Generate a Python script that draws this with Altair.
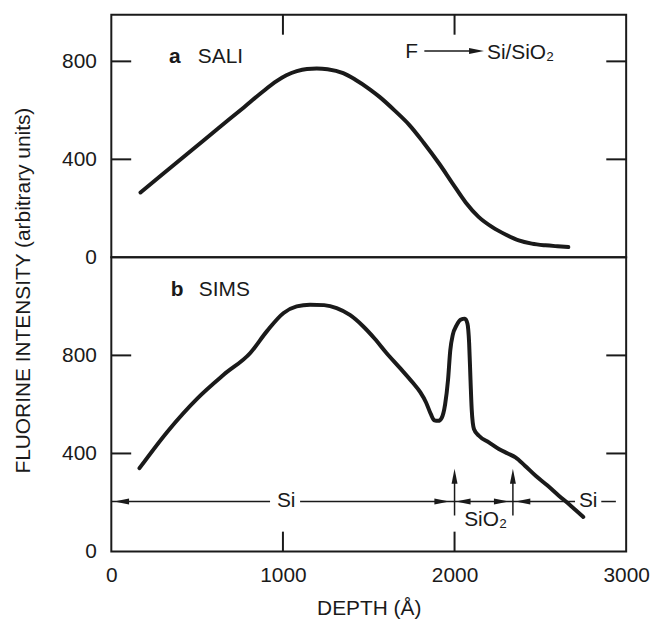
import altair as alt
import pandas as pd

# ---------------- data ----------------
sali_depth = [170, 300, 463, 620, 772, 880, 965, 1020, 1081, 1140, 1197, 1260, 1351, 1420,
              1506, 1563, 1650, 1737, 1820, 1911, 1990, 2065, 2140, 2220, 2300, 2374,
              2450, 2529, 2600, 2663]
sali_int = [265, 340, 434, 525, 612, 675, 720, 743, 760, 769, 771, 768, 752, 726,
            686, 655, 600, 540, 468, 382, 300, 224, 165, 123, 92, 69,
            56, 49, 45, 42]

sims_depth = [164, 328, 502, 656, 811, 907, 1004, 1080, 1158, 1240, 1313, 1390, 1467, 1535,
              1602, 1680, 1756, 1800, 1834, 1862, 1882, 1905, 1925, 1945, 1962, 1975,
              1990, 2010, 2035, 2060, 2075, 2085, 2093, 2100, 2113, 2142, 2200, 2258,
              2310, 2355, 2410, 2471, 2540, 2606, 2680, 2750]
sims_int = [340, 490, 625, 722, 811, 899, 973, 1000, 1007, 1005, 993, 965, 919, 868,
            811, 750, 689, 650, 608, 560, 535, 533, 545, 600, 700, 820,
            885, 920, 945, 950, 930, 850, 700, 580, 500, 472, 445, 418,
            400, 384, 350, 310, 270, 229, 185, 141]

x_ticks = [0, 1000, 2000, 3000]
y_ticks = [0, 400, 800]
inner_x_ticks = [1000, 2000]
inner_y_ticks = [400, 800]

# layer boundary annotations (bottom panel)
layer_line_level = 204
layer_line_from = [0, 1100, 2855]
layer_line_to = [925, 2702, 2940]
interface_depths = [2000, 2340]
interface_arrow_from = 147
interface_arrow_to = 300
interface_head_at = 307
head_right_at = [1926, 2273]
head_left_at = [60, 2050, 2398]
layer_text = ["Si", "Si"]
layer_text_x = [1019, 2779]

# ---------------- style ----------------
W = 518
H_TOP = 244
H_BOT = 296
INK = "#1a1a1a"
FONT = "Liberation Sans, Arial, Helvetica, sans-serif"
FS = 21
TICK = 20

RIGHT = "M1,0L-1,-0.4L-1,0.4Z"
LEFT = "M-1,0L1,-0.4L1,0.4Z"
UP = "M0,-1L-0.4,1L0.4,1Z"

xscale = alt.Scale(domain=[0, 3000], nice=False, zero=False)
ytop = alt.Scale(domain=[0, 990], nice=False)
ybot = alt.Scale(domain=[0, 1200], nice=False)

AX_X_TOP = None
AX_Y_TOP = alt.Axis(values=y_ticks, ticks=False, tickSize=0, domain=False, grid=False,
                    labelPadding=15, labelFlush=False,
                    title="FLUORINE INTENSITY (arbitrary units)",
                    titleX=-88, titleY=277, titleAngle=270, titleBaseline="middle",
                    titleAlign="center")
AX_X_BOT = alt.Axis(values=x_ticks, ticks=False, tickSize=0, domain=False, grid=False,
                    labelPadding=13, labelFlush=False, format="d",
                    title="DEPTH (Å)", titleY=46, titleBaseline="top")
AX_Y_BOT = alt.Axis(values=y_ticks, ticks=False, tickSize=0, domain=False, grid=False,
                    labelPadding=15, labelFlush=False, title=None)


class Panel:
    def __init__(self, yscale, ax_x, ax_y, h):
        self.yscale, self.ax_x, self.ax_y, self.h = yscale, ax_x, ax_y, h

    def X(self, field):
        return alt.X(field, scale=xscale, axis=self.ax_x)

    def Y(self, field):
        return alt.Y(field, scale=self.yscale, axis=self.ax_y)

    def curve(self, df):
        return alt.Chart(df).mark_line(
            color=INK, strokeWidth=4, interpolate="monotone", strokeCap="round").encode(
            x=self.X("x:Q"), y=self.Y("y:Q"))

    def frame_ticks(self, top_side):
        yt = pd.DataFrame({"y": inner_y_ticks})
        xt = pd.DataFrame({"x": inner_x_ticks})
        left = alt.Chart(yt).mark_rule(color=INK, strokeWidth=2).encode(
            y=self.Y("y:Q"), x=alt.value(0), x2=alt.value(TICK))
        right = alt.Chart(yt).mark_rule(color=INK, strokeWidth=2).encode(
            y=self.Y("y:Q"), x=alt.value(W - TICK), x2=alt.value(W))
        if top_side:
            horiz = alt.Chart(xt).mark_rule(color=INK, strokeWidth=2).encode(
                x=self.X("x:Q"), y=alt.value(0), y2=alt.value(TICK))
        else:
            horiz = alt.Chart(xt).mark_rule(color=INK, strokeWidth=2).encode(
                x=self.X("x:Q"), y=alt.value(self.h - TICK), y2=alt.value(self.h))
        return [left, right, horiz]

    def text(self, xs, ys, ts, **kw):
        df = pd.DataFrame({"x": xs, "y": ys, "t": ts})
        return alt.Chart(df).mark_text(font=FONT, fontSize=FS, color=INK, **kw).encode(
            x=self.X("x:Q"), y=self.Y("y:Q"), text="t:N")

    def hrule(self, xs, x2s, ys, width=1.5):
        df = pd.DataFrame({"x": xs, "x2": x2s, "y": ys})
        return alt.Chart(df).mark_rule(color=INK, strokeWidth=width).encode(
            x=self.X("x:Q"), x2="x2:Q", y=self.Y("y:Q"))

    def vrule(self, xs, ys, y2s, width=1.5):
        df = pd.DataFrame({"x": xs, "y": ys, "y2": y2s})
        return alt.Chart(df).mark_rule(color=INK, strokeWidth=width).encode(
            x=self.X("x:Q"), y=self.Y("y:Q"), y2="y2:Q")

    def heads(self, xs, ys, shape):
        df = pd.DataFrame({"x": xs, "y": ys})
        return alt.Chart(df).mark_point(
            shape=shape, size=225, filled=True, opacity=1, color=INK).encode(
            x=self.X("x:Q"), y=self.Y("y:Q"))


# ---------------- top panel (a SALI) ----------------
pt = Panel(ytop, AX_X_TOP, AX_Y_TOP, H_TOP)
top_layers = [pt.curve(pd.DataFrame({"x": sali_depth, "y": sali_int}))]
top_layers += pt.frame_ticks(top_side=True)
top_layers += [
    pt.text([336], [819], ["a"], align="left", baseline="middle", fontWeight="bold"),
    pt.text([504], [819], ["SALI"], align="left", baseline="middle"),
    pt.text([1750], [840], ["F"], align="center", baseline="middle"),
    pt.text([2189], [836], ["Si/SiO₂"], align="left", baseline="middle"),
    pt.hrule([1824], [2100], [842]),
    pt.heads([2128], [842], RIGHT),
]
top = alt.layer(*top_layers).properties(width=W, height=H_TOP)

# ---------------- bottom panel (b SIMS) ----------------
pb = Panel(ybot, AX_X_BOT, AX_Y_BOT, H_BOT)
bot_layers = [pb.curve(pd.DataFrame({"x": sims_depth, "y": sims_int}))]
bot_layers += pb.frame_ticks(top_side=False)
bot_layers += [
    pb.text([347], [1068], ["b"], align="left", baseline="middle", fontWeight="bold"),
    pb.text([510], [1068], ["SIMS"], align="left", baseline="middle"),
    pb.hrule(layer_line_from, layer_line_to, [layer_line_level] * len(layer_line_from)),
    pb.vrule(interface_depths, [interface_arrow_from] * 2, [interface_arrow_to] * 2),
    pb.heads(interface_depths, [interface_head_at] * 2, UP),
    pb.heads(head_right_at, [layer_line_level] * 2, RIGHT),
    pb.heads(head_left_at, [layer_line_level] * 3, LEFT),
    pb.text(layer_text_x, [layer_line_level] * 2, layer_text, align="center", baseline="middle"),
    pb.text([2181], [128], ["SiO₂"], align="center", baseline="middle"),
]
bottom = alt.layer(*bot_layers).properties(width=W, height=H_BOT)

chart = alt.vconcat(top, bottom, spacing=0, bounds="flush").properties(
    padding={"left": 12, "top": 11, "right": 2, "bottom": 2}
).configure_view(stroke=INK, strokeWidth=2).configure_axis(
    labelFont=FONT, labelFontSize=FS, labelColor=INK,
    titleFont=FONT, titleFontSize=FS, titleColor=INK, titleFontWeight="normal")

chart.save("out.html", embed_options={"renderer": "svg", "actions": False})
